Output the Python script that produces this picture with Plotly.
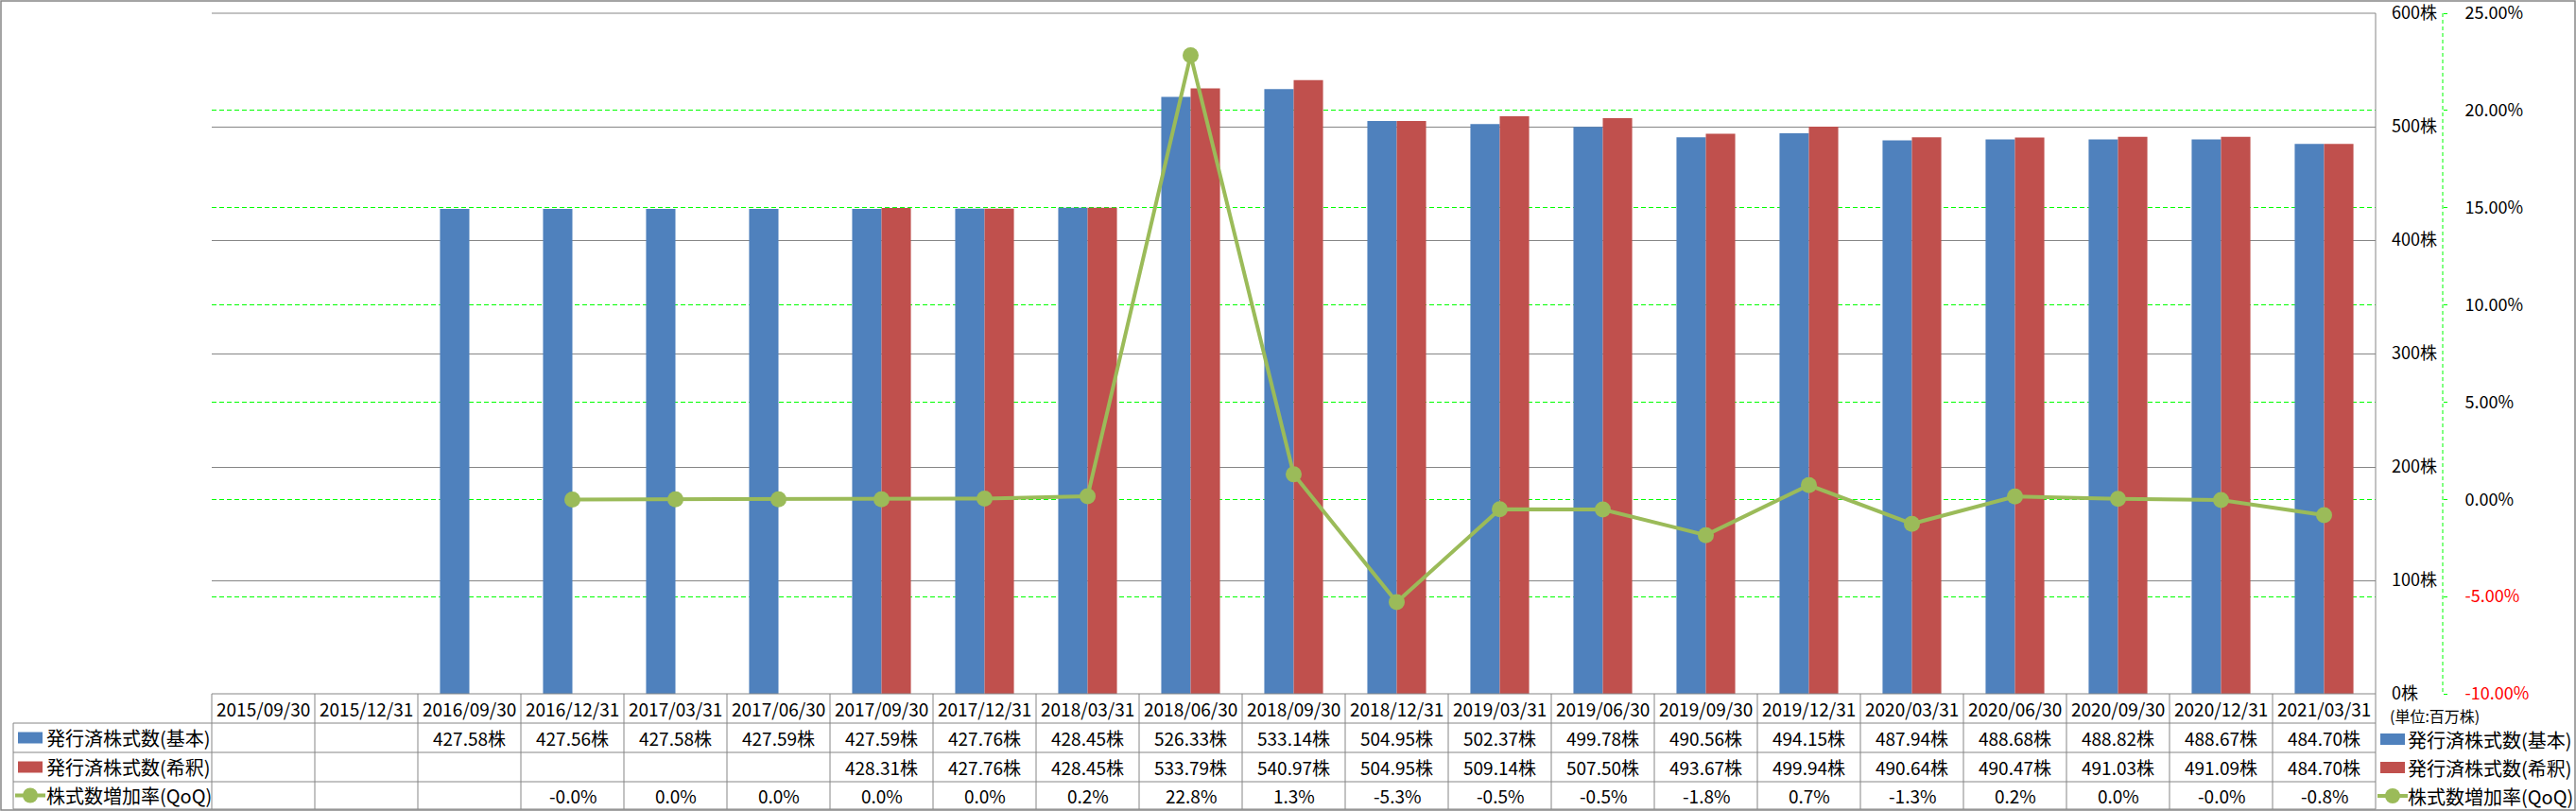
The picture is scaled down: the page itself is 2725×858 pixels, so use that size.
import plotly.graph_objects as go

W, H = 2725, 858

categories = ["2015/09/30", "2015/12/31", "2016/09/30", "2016/12/31", "2017/03/31",
              "2017/06/30", "2017/09/30", "2017/12/31", "2018/03/31", "2018/06/30",
              "2018/09/30", "2018/12/31", "2019/03/31", "2019/06/30", "2019/09/30",
              "2019/12/31", "2020/03/31", "2020/06/30", "2020/09/30", "2020/12/31",
              "2021/03/31"]
basic = [None, None, 427.58, 427.56, 427.58, 427.59, 427.59, 427.76, 428.45, 526.33,
         533.14, 504.95, 502.37, 499.78, 490.56, 494.15, 487.94, 488.68, 488.82, 488.67,
         484.70]
diluted = [None, None, None, None, None, None, 428.31, 427.76, 428.45, 533.79,
           540.97, 504.95, 509.14, 507.50, 493.67, 499.94, 490.64, 490.47, 491.03, 491.09,
           484.70]
qoq = [None, None, None, -0.005, 0.005, 0.002, 0.0, 0.04, 0.16, 22.84,
       1.29, -5.29, -0.51, -0.52, -1.84, 0.73, -1.26, 0.15, 0.03, -0.03, -0.81]
qoq_labels = ["", "", "", "-0.0%", "0.0%", "0.0%", "0.0%", "0.0%", "0.2%", "22.8%",
              "1.3%", "-5.3%", "-0.5%", "-0.5%", "-1.8%", "0.7%", "-1.3%", "0.2%", "0.0%",
              "-0.0%", "-0.8%"]
series_names = ["発行済株式数(基本)", "発行済株式数(希釈)", "株式数増加率(QoQ)"]
y1_ticks = [0, 100, 200, 300, 400, 500, 600]
y2_ticks = [-10, -5, 0, 5, 10, 15, 20, 25]
unit_label = "(単位:百万株)"

BLUE, RED, GREEN = "#4F81BD", "#C0504D", "#9BBB59"
GRID = "#868686"
FONT = "Noto Sans CJK JP"

PL, PR, PT, PB = 224, 2513, 14, 734
ROWS = [734, 765, 796, 827, 856]
TL = 14


def X(px):
    return px / W


def Y(py):
    return 1 - py / H


fig = go.Figure()
fig.add_bar(x=categories, y=basic, name=series_names[0], marker=dict(color=BLUE, line=dict(width=0)))
fig.add_bar(x=categories, y=diluted, name=series_names[1], marker=dict(color=RED, line=dict(width=0)))
fig.add_scatter(x=categories, y=qoq, name=series_names[2], yaxis="y2", mode="lines+markers",
                line=dict(color=GREEN, width=4), marker=dict(size=17, color=GREEN),
                connectgaps=False)

y2_text = []
for v in y2_ticks:
    s = f"{v:.2f}%"
    if v < 0:
        s = f'<span style="color:#FF0000">{s}</span>'
    y2_text.append(s)

shapes = []
annotations = []


def hline(x0, x1, y, color=GRID, width=1, dash=None):
    shapes.append(dict(type="line", xref="paper", yref="paper", x0=X(x0), x1=X(x1),
                       y0=Y(y), y1=Y(y), line=dict(color=color, width=width, dash=dash)))


def vline(x, y0, y1, color=GRID, width=1, dash=None):
    shapes.append(dict(type="line", xref="paper", yref="paper", x0=X(x), x1=X(x),
                       y0=Y(y0), y1=Y(y1), line=dict(color=color, width=width, dash=dash)))


# outer border
shapes.append(dict(type="rect", xref="paper", yref="paper", x0=X(1), x1=X(W - 1),
                   y0=Y(H - 1), y1=Y(1), line=dict(color=GRID, width=1.5)))
# plot top and right border
hline(PL, PR, PT)
vline(PR, PT, ROWS[-1])
# secondary axis dashed line
vline(2584, PT, PB, color="#00FF00", width=1, dash="4px,3px")
# table lines
hline(PL, PR, ROWS[0])
for r in ROWS[1:]:
    hline(TL, PR, r)
vline(TL, ROWS[1], ROWS[-1])
ncat = len(categories)
colw = (PR - PL) / ncat
for i in range(ncat):
    vline(PL + i * colw, ROWS[0], ROWS[-1])

tfont = dict(family=FONT, size=19, color="black")
rowc = [(ROWS[i] + ROWS[i + 1]) / 2 for i in range(4)]
for i, c in enumerate(categories):
    annotations.append(dict(xref="x", yref="paper", x=c, y=Y(rowc[0]), text=c,
                            showarrow=False, font=tfont, xanchor="center", yanchor="middle"))
    if basic[i] is not None:
        annotations.append(dict(xref="x", yref="paper", x=c, y=Y(rowc[1]), text=f"{basic[i]:.2f}株",
                                showarrow=False, font=tfont, xanchor="center", yanchor="middle"))
    if diluted[i] is not None:
        annotations.append(dict(xref="x", yref="paper", x=c, y=Y(rowc[2]), text=f"{diluted[i]:.2f}株",
                                showarrow=False, font=tfont, xanchor="center", yanchor="middle"))
    if qoq_labels[i]:
        annotations.append(dict(xref="x", yref="paper", x=c, y=Y(rowc[3]), text=qoq_labels[i],
                                showarrow=False, font=tfont, xanchor="center", yanchor="middle"))

lfont = dict(family=FONT, size=20, color="black")


def legend_block(kx, tx, ycs):
    colors = [BLUE, RED]
    for j in range(2):
        yc = ycs[j]
        shapes.append(dict(type="rect", xref="paper", yref="paper", x0=X(kx), x1=X(kx + 26),
                           y0=Y(yc + 6), y1=Y(yc - 6), line=dict(width=0), fillcolor=colors[j]))
    yc = ycs[2]
    shapes.append(dict(type="line", xref="paper", yref="paper", x0=X(kx - 3), x1=X(kx + 29),
                       y0=Y(yc), y1=Y(yc), line=dict(color=GREEN, width=4)))
    cx = kx + 13
    shapes.append(dict(type="circle", xref="paper", yref="paper", x0=X(cx - 8), x1=X(cx + 8),
                       y0=Y(yc + 8), y1=Y(yc - 8), line=dict(width=0), fillcolor=GREEN))
    for j in range(3):
        annotations.append(dict(xref="paper", yref="paper", x=X(tx), y=Y(ycs[j]), text=series_names[j],
                                showarrow=False, font=lfont, xanchor="left", yanchor="middle"))


legend_block(19, 47, rowc[1:])
legend_block(2518, 2545, [782, 812, 842])

annotations.append(dict(xref="paper", yref="paper", x=X(2526), y=Y(757), text=unit_label,
                        showarrow=False, font=dict(family=FONT, size=16, color="black"),
                        xanchor="left", yanchor="middle"))

fig.update_layout(
    width=W, height=H,
    margin=dict(l=0, r=0, t=0, b=0, autoexpand=False),
    paper_bgcolor="white", plot_bgcolor="white",
    showlegend=False,
    barmode="group", bargap=0.43, bargroupgap=0,
    font=dict(family=FONT, color="black"),
    xaxis=dict(type="category", categoryorder="array", categoryarray=categories,
               range=[-0.5, ncat - 0.5], domain=[X(PL), X(PR)], showticklabels=False,
               showgrid=False, zeroline=False, showline=False, ticks="", automargin=False),
    yaxis=dict(domain=[Y(PB), Y(PT)], range=[0, 600.001], tickvals=y1_ticks,
               ticktext=[f"{v}株" for v in y1_ticks], side="right", anchor="free",
               position=X(2529), showgrid=True, gridcolor=GRID, gridwidth=1,
               zeroline=False, showline=False, ticks="", ticklabeloverflow="allow",
               automargin=False,
               tickfont=dict(family=FONT, size=18, color="black")),
    yaxis2=dict(overlaying="y", side="right", anchor="free", position=X(2584),
                range=[-10, 25.0001], tickvals=y2_ticks, ticktext=y2_text,
                showgrid=True, gridcolor="#00FF00", gridwidth=1, griddash="5px,3px",
                zeroline=False, showline=False, ticks="outside", ticklen=4,
                tickcolor="#00FF00", tickwidth=1, ticklabelstandoff=15,
                ticklabeloverflow="allow", automargin=False,
                tickfont=dict(family=FONT, size=18, color="black")),
    shapes=shapes,
    annotations=annotations,
)

fig.write_html("out.html")
